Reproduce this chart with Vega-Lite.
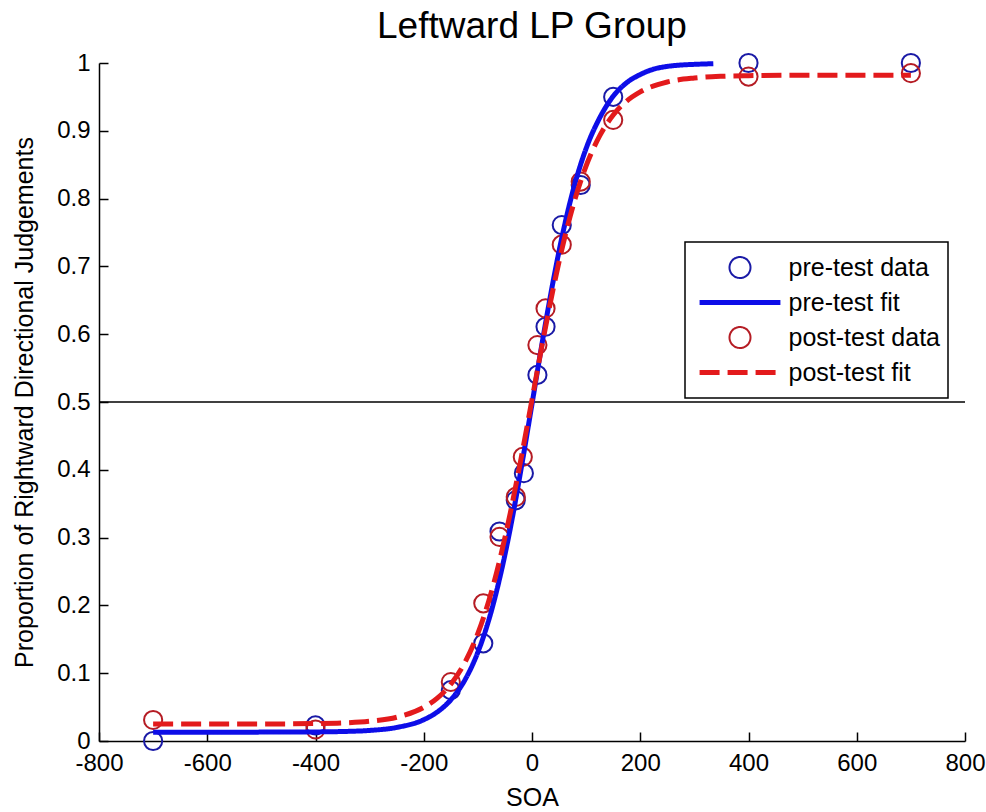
{
  "$schema": "https://vega.github.io/schema/vega-lite/v6.json",
  "width": 866,
  "height": 678,
  "autosize": {"type": "none"},
  "padding": {"left": 99, "top": 63, "right": 21, "bottom": 71},
  "background": "white",
  "title": {"text": "Leftward LP Group", "fontSize": 37, "font": "Liberation Sans", "fontWeight": "normal", "anchor": "middle", "frame": "group", "offset": 4, "color": "black"},
  "datasets": {
    "obs": [
      {"series": "pre-test data", "soa": -700, "p": 0.0},
      {"series": "pre-test data", "soa": -400, "p": 0.023},
      {"series": "pre-test data", "soa": -150, "p": 0.075},
      {"series": "pre-test data", "soa": -90, "p": 0.144},
      {"series": "pre-test data", "soa": -60, "p": 0.309},
      {"series": "pre-test data", "soa": -30, "p": 0.355},
      {"series": "pre-test data", "soa": -15, "p": 0.395},
      {"series": "pre-test data", "soa": 10, "p": 0.54},
      {"series": "pre-test data", "soa": 25, "p": 0.611},
      {"series": "pre-test data", "soa": 55, "p": 0.761},
      {"series": "pre-test data", "soa": 90, "p": 0.82},
      {"series": "pre-test data", "soa": 150, "p": 0.95},
      {"series": "pre-test data", "soa": 400, "p": 1.0},
      {"series": "pre-test data", "soa": 700, "p": 1.0},
      {"series": "post-test data", "soa": -700, "p": 0.031},
      {"series": "post-test data", "soa": -400, "p": 0.017},
      {"series": "post-test data", "soa": -150, "p": 0.087},
      {"series": "post-test data", "soa": -90, "p": 0.203},
      {"series": "post-test data", "soa": -60, "p": 0.301},
      {"series": "post-test data", "soa": -30, "p": 0.36},
      {"series": "post-test data", "soa": -17, "p": 0.419},
      {"series": "post-test data", "soa": 10, "p": 0.584},
      {"series": "post-test data", "soa": 25, "p": 0.638},
      {"series": "post-test data", "soa": 55, "p": 0.732},
      {"series": "post-test data", "soa": 90, "p": 0.825},
      {"series": "post-test data", "soa": 150, "p": 0.916},
      {"series": "post-test data", "soa": 400, "p": 0.98},
      {"series": "post-test data", "soa": 700, "p": 0.985}
    ],
    "fit": [
      {"series": "pre-test fit", "soa": -700, "p": 0.013},
      {"series": "pre-test fit", "soa": -600, "p": 0.013},
      {"series": "pre-test fit", "soa": -500, "p": 0.0131},
      {"series": "pre-test fit", "soa": -400, "p": 0.0134},
      {"series": "pre-test fit", "soa": -350, "p": 0.014},
      {"series": "pre-test fit", "soa": -300, "p": 0.0156},
      {"series": "pre-test fit", "soa": -250, "p": 0.02},
      {"series": "pre-test fit", "soa": -200, "p": 0.0314},
      {"series": "pre-test fit", "soa": -175, "p": 0.0428},
      {"series": "pre-test fit", "soa": -150, "p": 0.0607},
      {"series": "pre-test fit", "soa": -125, "p": 0.0886},
      {"series": "pre-test fit", "soa": -100, "p": 0.131},
      {"series": "pre-test fit", "soa": -80, "p": 0.178},
      {"series": "pre-test fit", "soa": -60, "p": 0.239},
      {"series": "pre-test fit", "soa": -40, "p": 0.314},
      {"series": "pre-test fit", "soa": -20, "p": 0.402},
      {"series": "pre-test fit", "soa": 0, "p": 0.497},
      {"series": "pre-test fit", "soa": 20, "p": 0.593},
      {"series": "pre-test fit", "soa": 40, "p": 0.682},
      {"series": "pre-test fit", "soa": 60, "p": 0.76},
      {"series": "pre-test fit", "soa": 80, "p": 0.824},
      {"series": "pre-test fit", "soa": 100, "p": 0.874},
      {"series": "pre-test fit", "soa": 125, "p": 0.919},
      {"series": "pre-test fit", "soa": 150, "p": 0.951},
      {"series": "pre-test fit", "soa": 175, "p": 0.971},
      {"series": "pre-test fit", "soa": 200, "p": 0.983},
      {"series": "pre-test fit", "soa": 225, "p": 0.991},
      {"series": "pre-test fit", "soa": 250, "p": 0.995},
      {"series": "pre-test fit", "soa": 275, "p": 0.997},
      {"series": "pre-test fit", "soa": 300, "p": 0.998},
      {"series": "pre-test fit", "soa": 335, "p": 0.999},
      {"series": "post-test fit", "soa": -700, "p": 0.025},
      {"series": "post-test fit", "soa": -600, "p": 0.025},
      {"series": "post-test fit", "soa": -500, "p": 0.0251},
      {"series": "post-test fit", "soa": -400, "p": 0.0257},
      {"series": "post-test fit", "soa": -350, "p": 0.0266},
      {"series": "post-test fit", "soa": -300, "p": 0.0291},
      {"series": "post-test fit", "soa": -250, "p": 0.035},
      {"series": "post-test fit", "soa": -200, "p": 0.0496},
      {"series": "post-test fit", "soa": -175, "p": 0.0631},
      {"series": "post-test fit", "soa": -150, "p": 0.0838},
      {"series": "post-test fit", "soa": -125, "p": 0.1144},
      {"series": "post-test fit", "soa": -100, "p": 0.1587},
      {"series": "post-test fit", "soa": -80, "p": 0.2062},
      {"series": "post-test fit", "soa": -60, "p": 0.2656},
      {"series": "post-test fit", "soa": -40, "p": 0.3368},
      {"series": "post-test fit", "soa": -20, "p": 0.4175},
      {"series": "post-test fit", "soa": 0, "p": 0.5035},
      {"series": "post-test fit", "soa": 20, "p": 0.5896},
      {"series": "post-test fit", "soa": 40, "p": 0.6702},
      {"series": "post-test fit", "soa": 60, "p": 0.7414},
      {"series": "post-test fit", "soa": 80, "p": 0.8008},
      {"series": "post-test fit", "soa": 100, "p": 0.8483},
      {"series": "post-test fit", "soa": 125, "p": 0.8926},
      {"series": "post-test fit", "soa": 150, "p": 0.9232},
      {"series": "post-test fit", "soa": 175, "p": 0.9439},
      {"series": "post-test fit", "soa": 200, "p": 0.9574},
      {"series": "post-test fit", "soa": 250, "p": 0.972},
      {"series": "post-test fit", "soa": 300, "p": 0.9779},
      {"series": "post-test fit", "soa": 350, "p": 0.9804},
      {"series": "post-test fit", "soa": 400, "p": 0.9813},
      {"series": "post-test fit", "soa": 500, "p": 0.9819},
      {"series": "post-test fit", "soa": 600, "p": 0.982},
      {"series": "post-test fit", "soa": 700, "p": 0.982}
    ]
  },
  "layer": [
    {
      "data": {"name": "obs"},
      "mark": {"type": "point", "filled": false, "opacity": 1, "size": 330, "strokeWidth": 2},
      "encoding": {
        "x": {
          "field": "soa", "type": "quantitative", "title": "SOA",
          "scale": {"domain": [-800, 800], "nice": false, "zero": false},
          "axis": {"values": [-800, -600, -400, -200, 0, 200, 400, 600, 800], "labelExpr": "'' + datum.value", "labelPadding": 19, "titlePadding": 10, "labelFlush": false}
        },
        "y": {
          "field": "p", "type": "quantitative", "title": "Proportion of Rightward Directional Judgements",
          "scale": {"domain": [0, 1], "nice": false},
          "axis": {"values": [0, 0.1, 0.2, 0.3, 0.4, 0.5, 0.6, 0.7, 0.8, 0.9, 1], "format": ".1~f", "labelPadding": 18, "titlePadding": 19, "labelFlush": false}
        },
        "color": {"field": "series", "type": "nominal", "scale": {"domain": ["pre-test data", "pre-test fit", "post-test data", "post-test fit"], "range": ["#1a1aa6", "#0d0de8", "#b51c24", "#e31a1c"]}, "legend": {"title": null}},
        "shape": {"field": "series", "type": "nominal", "scale": {"domain": ["pre-test data", "pre-test fit", "post-test data", "post-test fit"], "range": ["circle", "M-3.85,-0.14H3.85M-3.85,0H3.85M-3.85,0.14H3.85", "circle", "M-3.85,-0.14H3.85M-3.85,0H3.85M-3.85,0.14H3.85"]}, "legend": {"title": null}}
      }
    },
    {
      "data": {"values": [{}]},
      "mark": {"type": "rule", "color": "black", "strokeWidth": 1.5},
      "encoding": {"y": {"datum": 0.5, "type": "quantitative"}}
    },
    {
      "data": {"name": "fit"},
      "mark": {"type": "line", "interpolate": "monotone", "strokeWidth": 5},
      "encoding": {
        "x": {"field": "soa", "type": "quantitative"},
        "y": {"field": "p", "type": "quantitative"},
        "color": {"field": "series", "type": "nominal", "legend": {"title": null}},
        "strokeDash": {"field": "series", "type": "nominal", "scale": {"domain": ["pre-test data", "pre-test fit", "post-test data", "post-test fit"], "range": [[1, 0], [1, 0], [1, 0], [20, 8]]}, "legend": {"title": null}}
      }
    }
  ],
  "config": {
    "view": {"stroke": null},
    "font": "Liberation Sans",
    "axis": {
      "domainColor": "black", "domainWidth": 1.5, "tickColor": "black", "tickWidth": 1.5, "tickSize": -9,
      "grid": false, "labelFont": "Liberation Sans", "labelFontSize": 24, "labelColor": "black",
      "titleFont": "Liberation Sans", "titleFontSize": 25, "titleFontWeight": "normal", "titleColor": "black",
      "labelOverlap": false, "labelBound": false
    },
    "legend": {
      "orient": "none", "legendX": 586, "legendY": 179, "padding": 8, "clipHeight": 35, "rowPadding": 0,
      "symbolSize": 441, "symbolStrokeWidth": 2, "symbolOffset": 34.5, "labelOffset": 36,
      "labelFont": "Liberation Sans", "labelFontSize": 25, "labelColor": "black",
      "labelLimit": 400, "strokeColor": "black", "fillColor": "white", "strokeWidth": 1.5
    }
  }
}
